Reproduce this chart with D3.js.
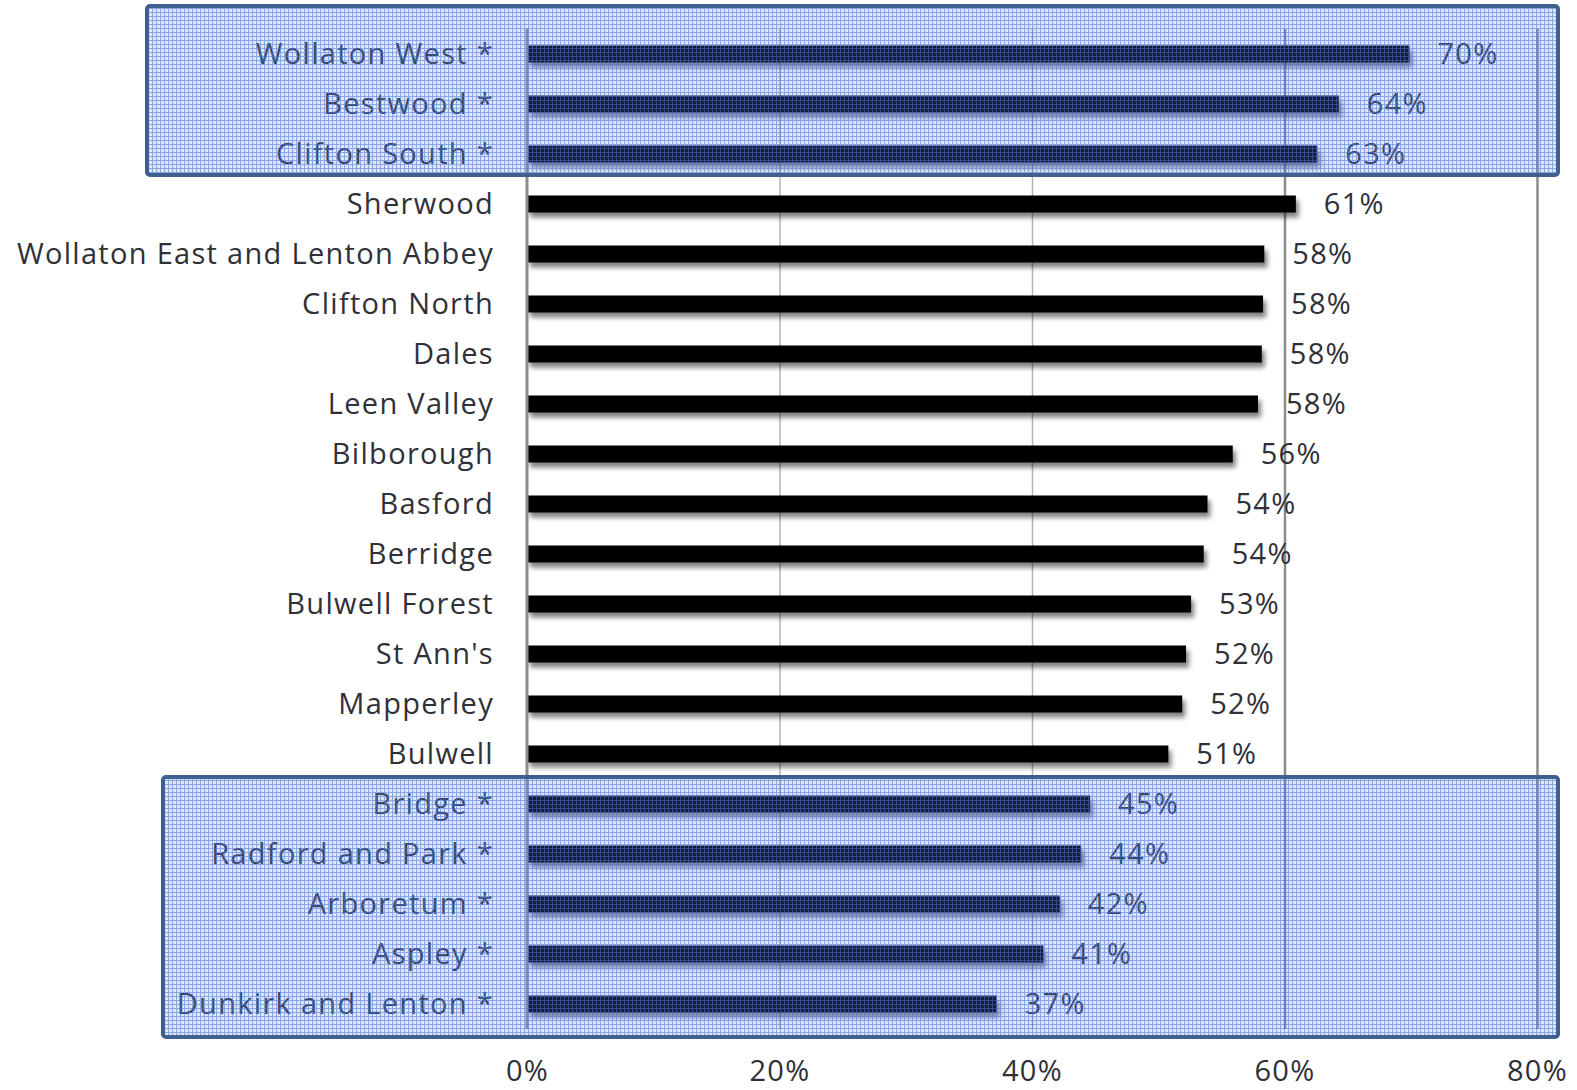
<!DOCTYPE html>
<html>
<head>
<meta charset="utf-8">
<script src="https://cdn.jsdelivr.net/npm/d3@7"></script>
<style>
  body { margin: 0; background: #fff; }
  text { font-family: "Open Sans", Lato, sans-serif; letter-spacing: 1.3px; }
</style>
</head>
<body>
<div id="chart"></div>
<script>
// wards, top to bottom
const wards = ["Wollaton West", "Bestwood", "Clifton South", "Sherwood",
    "Wollaton East and Lenton Abbey", "Clifton North", "Dales", "Leen Valley",
    "Bilborough", "Basford", "Berridge", "Bulwell Forest", "St Ann's",
    "Mapperley", "Bulwell", "Bridge", "Radford and Park", "Arboretum",
    "Aspley", "Dunkirk and Lenton"];
// percentages
const values = [69.9, 64.3, 62.6, 60.9, 58.4, 58.3, 58.2, 57.9, 55.9, 53.9,
    53.6, 52.6, 52.2, 51.9, 50.8, 44.6, 43.9, 42.2, 40.9, 37.2];
const topGroup = ["Wollaton West", "Bestwood", "Clifton South"];
const bottomGroup = ["Bridge", "Radford and Park", "Arboretum", "Aspley", "Dunkirk and Lenton"];
const xTicks = [0, 20, 40, 60, 80];

const width = 1577;
const height = 1090;
const fontSize = 29;
const textColor = "#2f3038";
const data = wards.map((w, i) => ({ name: w, value: values[i] }));
const starred = new Set(topGroup.concat(bottomGroup));

var svg = d3.select("#chart").append("svg")
    .attr("width", width)
    .attr("height", height);

const defs = svg.append("defs");

// soft shadow under the bars
const f = defs.append("filter").attr("id", "shadow")
    .attr("x", "-5%").attr("y", "-50%").attr("width", "110%").attr("height", "250%");
f.append("feGaussianBlur").attr("in", "SourceAlpha").attr("stdDeviation", 2.5);
f.append("feOffset").attr("dx", 3).attr("dy", 5).attr("result", "off");
f.append("feComponentTransfer").append("feFuncA").attr("type", "linear").attr("slope", 0.5);
const fm = f.append("feMerge");
fm.append("feMergeNode");
fm.append("feMergeNode").attr("in", "SourceGraphic");

// translucent blue grid pattern for the highlight boxes
const pat = defs.append("pattern").attr("id", "hatch")
    .attr("width", 4).attr("height", 4).attr("patternUnits", "userSpaceOnUse");
pat.append("rect").attr("width", 4).attr("height", 4)
    .attr("fill", "rgb(95,140,215)").attr("fill-opacity", 0.22);
pat.append("rect").attr("width", 4).attr("height", 1)
    .attr("fill", "rgb(70,115,205)").attr("fill-opacity", 0.55);
pat.append("rect").attr("y", 1).attr("width", 1).attr("height", 3)
    .attr("fill", "rgb(70,115,205)").attr("fill-opacity", 0.55);

var x = d3.scaleLinear().domain([0, 80]).range([527, 1537]);
var y = d3.scaleBand().domain(wards).range([29, 1029])
    .paddingInner(0.66).paddingOuter(0.33);

// gridlines
svg.append("g")
    .attr("transform", "translate(0,1029)")
    .call(d3.axisBottom(x).tickValues(xTicks.slice(1)).tickSize(-1000).tickFormat(""))
    .call(g => g.select(".domain").remove())
    .call(g => g.selectAll("line")
        .attr("stroke", d => d < 60 ? "#b4b4b4" : "#8c8c8c")
        .attr("stroke-width", d => d < 60 ? 1.5 : 2.5));

// x labels
svg.append("g")
    .attr("transform", "translate(0,1057)")
    .call(d3.axisBottom(x).tickValues(xTicks).tickSize(0).tickFormat(d => d + "%"))
    .call(g => g.select(".domain").remove())
    .call(g => g.selectAll("text").attr("font-size", fontSize).attr("fill", textColor)
        .attr("font-family", "'Open Sans', sans-serif"));

// bars
svg.append("g").selectAll("rect")
    .data(data)
    .join("rect")
    .attr("x", x(0))
    .attr("y", d => y(d.name))
    .attr("width", d => x(d.value) - x(0))
    .attr("height", y.bandwidth())
    .attr("fill", "#000")
    .attr("filter", "url(#shadow)");

// left axis line
svg.append("line")
    .attr("x1", x(0)).attr("x2", x(0))
    .attr("y1", 29).attr("y2", 1029)
    .attr("stroke", "#8c8c8c").attr("stroke-width", 3);

// ward labels
svg.append("g")
    .attr("transform", "translate(" + (x(0) - 30) + ",0)")
    .call(d3.axisLeft(y).tickSize(0).tickFormat(d => starred.has(d) ? d + " *" : d))
    .call(g => g.select(".domain").remove())
    .call(g => g.selectAll("text").attr("font-size", fontSize).attr("fill", textColor)
        .attr("font-family", "'Open Sans', sans-serif").attr("dy", "0.34em"));

// value labels
svg.append("g").selectAll("text")
    .data(data)
    .join("text")
    .attr("x", d => x(d.value) + 28)
    .attr("y", d => y(d.name) + y.bandwidth() / 2)
    .attr("dy", "0.36em")
    .attr("font-size", fontSize)
    .attr("fill", textColor)
    .text(d => Math.round(d.value) + "%");

// highlight boxes drawn on top
const step = y.step();
const boxes = [
    { x0: 147, y0: y(topGroup[0]) - y.paddingOuter() * step - 23,
      y1: y(topGroup[topGroup.length - 1]) + y.bandwidth() + y.paddingInner() * step / 2 - 4 },
    { x0: 163, y0: y(bottomGroup[0]) - y.paddingInner() * step / 2 - 2,
      y1: 1037 }
];
svg.append("g").selectAll("rect")
    .data(boxes)
    .join("rect")
    .attr("x", d => d.x0)
    .attr("y", d => d.y0)
    .attr("width", d => 1558 - d.x0)
    .attr("height", d => d.y1 - d.y0)
    .attr("rx", 3)
    .attr("fill", "url(#hatch)")
    .attr("stroke", "#3d6090")
    .attr("stroke-width", 4);
</script>
</body>
</html>
